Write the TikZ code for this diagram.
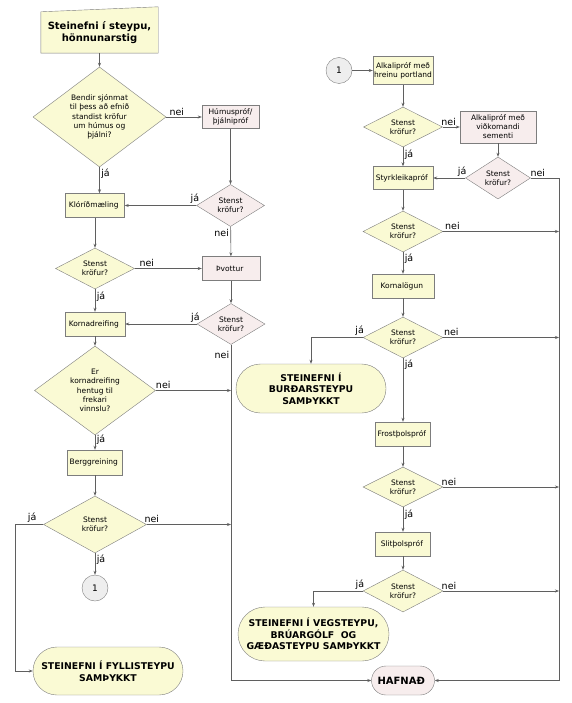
\documentclass[tikz,border=0pt]{standalone}
\usepackage{fontspec}
\setmainfont{DejaVu Sans}
\usetikzlibrary{shapes.geometric,shapes.misc,arrows.meta,backgrounds}

\definecolor{boxyellow}{RGB}{250,250,212}
\definecolor{boxpink}{RGB}{247,237,237}
\definecolor{edgegray}{RGB}{125,125,125}
\definecolor{linegray}{RGB}{95,95,95}
\definecolor{circlegray}{RGB}{238,238,238}

\begin{document}
\begin{tikzpicture}[x=1pt, y=-1pt, auto,
   box/.style={rectangle, draw=edgegray, fill=boxyellow, align=center, inner sep=1pt,
      font=\fontsize{7.5}{9}\selectfont},
   testbox/.style={box, fill=boxpink},
   check/.style={diamond, aspect=1.35, draw=edgegray, fill=boxyellow, align=center, inner sep=0pt,
      font=\fontsize{7.5}{9.3}\selectfont},
   testcheck/.style={check, fill=boxpink},
   result/.style={rounded rectangle, draw=edgegray, fill=boxyellow, align=center, inner sep=1pt,
      font=\bfseries\fontsize{9.3}{11.5}\selectfont},
   link/.style={circle, draw=edgegray, fill=circlegray, minimum size=26pt, inner sep=0pt,
      font=\fontsize{9}{10}\selectfont},
   flow/.style={draw=linegray, line width=0.6pt, -{Stealth[length=4pt,width=3pt]}},
   ans/.style={font=\fontsize{9.5}{11}\selectfont, inner sep=1.5pt}]
      \useasboundingbox (0,0) rectangle (571,703);
      \node (Title) [minimum width=117pt, minimum height=41pt, align=center,
         font=\bfseries\fontsize{10}{12}\selectfont] at (99.5,32.5) {
         Steinefni í steypu,\\hönnunarstig
      };
      \begin{scope}[on background layer]
         \draw[draw=edgegray, fill=boxyellow] (Title.south west) -- (Title.south east)
            -- ([yshift=5pt]Title.north east) -- (Title.north west) -- cycle;
      \end{scope}
      \node (Visual) [check, minimum width=133pt, minimum height=100pt] at (99.5,117) {
         Bendir sjónmat\\til þess að efnið\\standist kröfur\\um húmus og\\þjálni?
      };
      \node (Humus) [testbox, minimum width=57pt, minimum height=23pt] at (230.5,117) {
         Húmuspróf/\\þjálnipróf
      };
      \node (HumusOK) [testcheck, minimum width=68pt, minimum height=42pt] at (230.5,205.5) {
         Stenst\\kröfur?
      };
      \node (Chloride) [box, minimum width=59pt, minimum height=24pt] at (95,205.5) {
         Klóríðmæling
      };
      \node (ChlorideOK) [check, minimum width=79pt, minimum height=41pt] at (95,268.5) {
         Stenst\\kröfur?
      };
      \node (Washing) [testbox, minimum width=58pt, minimum height=24pt] at (231,268.5) {
         Þvottur
      };
      \node (WashingOK) [testcheck, minimum width=68pt, minimum height=41pt] at (231,324) {
         Stenst\\kröfur?
      };
      \node (Grading) [box, minimum width=60pt, minimum height=24pt] at (95,324) {
         Kornadreifing
      };
      \node (GradingOK) [check, minimum width=121pt, minimum height=89pt] at (95,390.5) {
         Er\\kornadreifing\\hentug til\\frekari\\vinnslu?
      };
      \node (Petro) [box, minimum width=55pt, minimum height=25pt] at (95,462.5) {
         Berggreining
      };
      \node (PetroOK) [check, minimum width=103pt, minimum height=57pt] at (95,524.5) {
         Stenst\\kröfur?
      };
      \node (LinkA) [link] at (95,588) {
         1
      };
      \node (Filler) [result, minimum width=152pt, minimum height=48pt] at (108,671) {
         STEINEFNI Í FYLLISTEYPU\\SAMÞYKKT
      };
      \node (LinkB) [link] at (339,70.5) {
         1
      };
      \node (AlkPure) [box, minimum width=60pt, minimum height=28pt] at (403,70.5) {
         Alkalipróf með\\hreinu portland
      };
      \node (AlkPureOK) [check, minimum width=79pt, minimum height=40pt] at (403,127) {
         Stenst\\kröfur?
      };
      \node (AlkCem) [testbox, minimum width=76pt, minimum height=32pt] at (498,127) {
         Alkalipróf með\\viðkomandi\\sementi
      };
      \node (AlkCemOK) [testcheck, minimum width=65pt, minimum height=42pt] at (498,178) {
         Stenst\\kröfur?
      };
      \node (Strength) [box, minimum width=60pt, minimum height=23pt] at (403,178) {
         Styrkleikapróf
      };
      \node (StrengthOK) [check, minimum width=80pt, minimum height=41pt] at (403,231.5) {
         Stenst\\kröfur?
      };
      \node (Shape) [box, minimum width=62pt, minimum height=24pt] at (403,286) {
         Kornalögun
      };
      \node (ShapeOK) [check, minimum width=80pt, minimum height=41pt] at (403,337.5) {
         Stenst\\kröfur?
      };
      \node (Structural) [result, minimum width=152pt, minimum height=49pt] at (311,388.5) {
         STEINEFNI Í\\BURÐARSTEYPU\\SAMÞYKKT
      };
      \node (Frost) [box, minimum width=55pt, minimum height=24pt] at (403,434) {
         Frostþolspróf
      };
      \node (FrostOK) [check, minimum width=80pt, minimum height=40pt] at (403,487) {
         Stenst\\kröfur?
      };
      \node (Abrasion) [box, minimum width=55pt, minimum height=24pt] at (403,544) {
         Slitþolspróf
      };
      \node (AbrasionOK) [check, minimum width=80pt, minimum height=42pt] at (403,591) {
         Stenst\\kröfur?
      };
      \node (Road) [result, minimum width=153pt, minimum height=54pt] at (313.5,634) {
         STEINEFNI Í VEGSTEYPU,\\BRÚARGÓLF~~OG\\GÆÐASTEYPU SAMÞYKKT
      };
      \node (Rejected) [result, fill=boxpink, minimum width=65pt, minimum height=29pt,
         font=\bfseries\fontsize{10}{12}\selectfont] at (403,680.5) {
         HAFNAÐ
      };
      \coordinate (RightBus) at (559,178);
      \draw[flow] (Title) -- (Visual);
      \draw[flow] (Visual) -- node[ans, pos=0.3] {nei} (Humus);
      \draw[flow] (Visual.south) -- node[ans, pos=0.25] {já} (Visual.south |- Chloride.north);
      \draw[flow] (Humus) -- (HumusOK);
      \draw[flow] (HumusOK) -- node[ans, pos=0.02, swap] {já} (Chloride);
      \draw[flow] (HumusOK) -- node[ans, pos=0.2, swap] {nei} (Washing);
      \draw[flow] (Chloride) -- (ChlorideOK);
      \draw[flow] (ChlorideOK) -- node[ans, pos=0.18] {nei} (Washing);
      \draw[flow] (ChlorideOK) -- node[ans, pos=0.35] {já} (Grading);
      \draw[flow] (Washing) -- (WashingOK);
      \draw[flow] (WashingOK) -- node[ans, pos=0.02, swap] {já} (Grading);
      \draw[flow] (WashingOK) |- node[ans, pos=0.015, swap] {nei} (Rejected);
      \draw[flow] (Grading) -- (GradingOK);
      \draw[flow] (GradingOK) -- node[ans, pos=0.1] {nei} (GradingOK -| WashingOK);
      \draw[flow] (GradingOK) -- node[ans, pos=0.3] {já} (Petro);
      \draw[flow] (Petro) -- (PetroOK);
      \draw[flow] (PetroOK) -- node[ans, pos=0.06] {nei} (PetroOK -| WashingOK);
      \draw[flow] (PetroOK) -- node[ans, pos=0.3] {já} (LinkA);
      \draw[flow] (PetroOK.west) -- node[ans, pos=0.4, swap] {já} ++(-28,0) |- (Filler.west);
      \draw[flow] (LinkB) -- (AlkPure);
      \draw[flow] (AlkPure) -- (AlkPureOK);
      \draw[flow] (AlkPureOK) -- node[ans, pos=0.35] {nei} (AlkCem);
      \draw[flow] (AlkPureOK) -- node[ans, pos=0.4] {já} (Strength);
      \draw[flow] (AlkCem) -- (AlkCemOK);
      \draw[flow] (AlkCemOK) -- node[ans, pos=0.1, swap] {já} (Strength);
      \draw[flow] (AlkCemOK) -- node[ans, pos=0.25] {nei} (RightBus) |- (Rejected);
      \draw[flow] (Strength) -- (StrengthOK);
      \draw[flow] (StrengthOK) -- node[ans, pos=0.08] {nei} (StrengthOK -| RightBus);
      \draw[flow] (StrengthOK) -- node[ans, pos=0.3] {já} (Shape);
      \draw[flow] (Shape) -- (ShapeOK);
      \draw[flow] (ShapeOK) -- node[ans, pos=0.07] {nei} (ShapeOK -| RightBus);
      \draw[flow] (ShapeOK) -| node[ans, pos=0.03, swap] {já} (Structural);
      \draw[flow] (ShapeOK) -- node[ans, pos=0.1] {já} (Frost);
      \draw[flow] (Frost) -- (FrostOK);
      \draw[flow] (FrostOK) -- node[ans, pos=0.05] {nei} (FrostOK -| RightBus);
      \draw[flow] (FrostOK) -- node[ans, pos=0.3] {já} (Abrasion);
      \draw[flow] (Abrasion) -- (AbrasionOK);
      \draw[flow] (AbrasionOK) -- node[ans, pos=0.05] {nei} (AbrasionOK -| RightBus);
      \draw[flow] (AbrasionOK) -| node[ans, pos=0.03, swap] {já} (Road);
      \end{tikzpicture}
\end{document}
